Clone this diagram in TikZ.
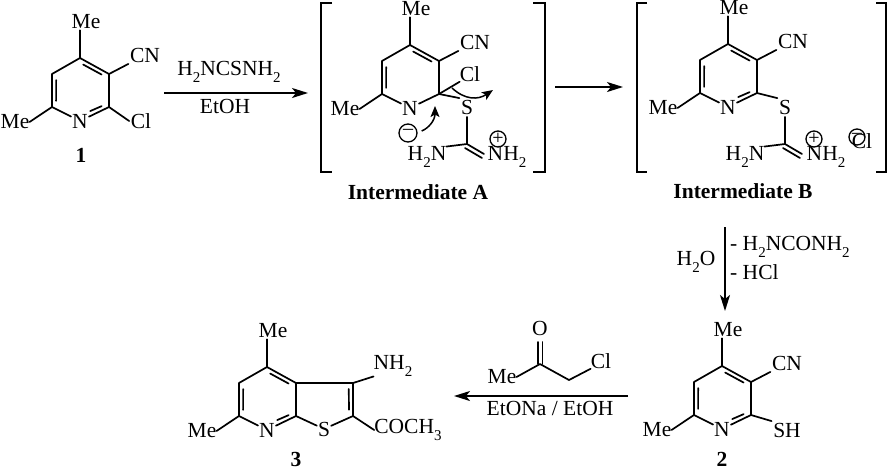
\documentclass[tikz,border=0pt]{standalone}
\usepackage{fontspec}
\setmainfont{Liberation Serif}
\usetikzlibrary{arrows.meta,calc}
\newcommand{\sbs}[1]{\raisebox{-0.3em}{\fontsize{15}{15}\selectfont #1}}
\tikzset{
  bond/.style={line width=1.7pt,line cap=round,line join=round},
  atom/.style={inner sep=1.5pt,font=\fontsize{21.5}{24}\selectfont},
  reag/.style={inner sep=0pt,font=\fontsize{21.5}{24}\selectfont},
  cmpd/.style={inner sep=0pt,font=\fontsize{21.5}{24}\selectfont\bfseries},
  rxn/.style={line width=1.7pt,-{Stealth[length=16pt,width=10pt,inset=4pt]}},
  brk/.style={line width=1.7pt,line cap=butt,line join=miter},
  curly/.style={line width=1.5pt,-{Stealth[length=11pt,width=9pt,inset=2.5pt]}},
  chg/.style={circle,draw,line width=1.3pt,inner sep=0pt,minimum size=16pt,font=\fontsize{20}{20}\selectfont},
}
% inner line of a double bond: towards the ring centre
\newcommand{\dbl}[3]{\draw[bond] ($(#1)!0.13!(#2)!4.5pt!(#3)$) -- ($(#2)!0.13!(#1)!4.5pt!(#3)$);}
% inner line of a double bond ending near a label
\newcommand{\dbln}[3]{\draw[bond] ($(#1)!0.13!(#2)!4.5pt!(#3)$) -- ($(#2)!0.42!(#1)!4.5pt!(#3)$);}
% pyridine ring: prefix, x offset, y offset
\newcommand{\pyr}[3]{%
  \begin{scope}[shift={(#2,#3)}]
    \coordinate (#1c4) at (80,58);
    \coordinate (#1c3) at (109,74);
    \coordinate (#1c2) at (109,107);
    \coordinate (#1c6) at (52,107);
    \coordinate (#1c5) at (52,74);
    \coordinate (#1m) at (80,90);
    \node[atom,inner sep=1pt] (#1n) at (80,121) {N};
    \node[atom,inner sep=1pt] (#1me4) at (86,22) {Me};
    \node[atom,inner sep=0pt] (#1me6) at (15,122) {Me};
    \draw[bond] (#1c6) -- (#1c5) -- (#1c4) -- (#1c3) -- (#1c2) -- (#1n) -- (#1c6);
    \draw[bond] (#1c4) -- (#1c4 |- #1me4.south);
    \draw[bond] (#1c6) -- (#1me6.east);
    \dbl{#1c4}{#1c3}{#1m}
    \dbl{#1c5}{#1c6}{#1m}
  \end{scope}}
\begin{document}
\begin{tikzpicture}[x=1pt,y=-1pt]
\useasboundingbox (0,0) rectangle (887,467);

% ---- compound 1
\pyr{a}{0}{0}
\dbln{ac2}{an}{am}
\node[atom] (acn) at (145,55) {CN};
\node[atom] (acl) at (141,121) {Cl};
\draw[bond] (ac3) -- (acn.south west);
\draw[bond] (ac2) -- (acl.west);
\node[cmpd] (l1) at (81,155) {1};

% ---- arrow 1
\coordinate (r1s) at (164,93);
\coordinate (r1e) at (308,93);
\draw[rxn] (r1s) -- (r1e);
\node[reag] (r1a) at (229,72) {H\sbs{2}NCSNH\sbs{2}};
\node[reag] (r1b) at (225,106) {EtOH};

% ---- Intermediate A
\draw[brk] (332,3) -- (321,3) -- (321,172) -- (332,172);
\draw[brk] (533,3) -- (545,3) -- (545,172) -- (533,172);
\pyr{b}{330}{-13}
\node[atom] (bcn) at (475,42) {CN};
\node[atom,inner sep=0pt] (bcl) at (470,74) {Cl};
\node[atom] (bs) at (467,107) {S};
\node[atom,inner sep=0pt] (bh2n) at (427,157) {H\sbs{2}N};
\node[atom,inner sep=0pt] (bnh2) at (507,157) {NH\sbs{2}};
\coordinate (bcc) at (467,144);
\draw[bond] (bc3) -- (bcn.south west);
\draw[bond] (bc2) -- (bcl.south west);
\draw[bond] (bc2) -- (bs.north west);
\draw[bond] (bs.south) ++(0,1) -- (bcc);
\draw[bond] (bcc) -- (bh2n.north east);
\draw[bond] (bcc) -- (484,154);
\draw[bond] (465,148) -- (482,158);
\node[chg] (bplus) at (498,139) {+};
\node[chg,minimum size=18pt] (bminus) at (408,133) {\raisebox{0.1em}{--}};
\draw[curly] (bminus.east) ++(4,-2) .. controls (429,128) and (435,120) .. (435,106);
\draw[curly] (452,88) .. controls (465,100) and (478,100) .. (493,90);
\node[cmpd] (la) at (418,192) {Intermediate A};

% ---- arrow 2
\coordinate (r2s) at (555,87);
\coordinate (r2e) at (623,87);
\draw[rxn] (r2s) -- (r2e);

% ---- Intermediate B
\draw[brk] (647,3) -- (637,3) -- (637,172) -- (647,172);
\draw[brk] (876,3) -- (886,3) -- (886,172) -- (876,172);
\pyr{c}{648}{-14}
\dbln{cc2}{cn}{cm}
\node[atom] (ccn) at (793,41) {CN};
\node[atom] (cs) at (785,107) {S};
\node[atom,inner sep=0pt] (ch2n) at (745,157) {H\sbs{2}N};
\node[atom,inner sep=0pt] (cnh2) at (826,157) {NH\sbs{2}};
\coordinate (ccc) at (785,144);
\draw[bond] (cc3) -- (ccn.south west);
\draw[bond] (cc2) -- (cs.north west);
\draw[bond] (cs.south) ++(0,1) -- (ccc);
\draw[bond] (ccc) -- (ch2n.north east);
\draw[bond] (ccc) -- (802,154);
\draw[bond] (783,148) -- (800,158);
\node[chg] (cplus) at (814,139) {+};
\node[atom] (ccl) at (862,141) {Cl};
\node[chg] (cminus) at (857,137) {\raisebox{0.1em}{--}};
\node[cmpd] (lb) at (743,191) {Intermediate B};

% ---- arrow 3
\coordinate (r3s) at (725,227);
\coordinate (r3e) at (725,311);
\draw[rxn] (r3s) -- (r3e);
\node[reag] (r3a) at (696,262) {H\sbs{2}O};
\node[reag,anchor=west] (r3b) at (730,247) {- H\sbs{2}NCONH\sbs{2}};
\node[reag,anchor=west] (r3c) at (730,272) {- HCl};

% ---- compound 2
\pyr{d}{642}{308}
\dbln{dc2}{dn}{dm}
\node[atom] (dcn) at (787,363) {CN};
\node[atom] (dsh) at (787,430) {SH};
\draw[bond] (dc3) -- (dcn.south west);
\draw[bond] (dc2) -- (dsh.north west);
\node[cmpd] (l2) at (722,459) {2};

% ---- arrow 4
\coordinate (r4s) at (628,396);
\coordinate (r4e) at (454,396);
\draw[rxn] (r4s) -- (r4e);
\node[atom,inner sep=0pt] (eme) at (502,377) {Me};
\node[atom,inner sep=0pt] (eo) at (540,328) {O};
\node[atom,inner sep=0pt] (ecl) at (601,361) {Cl};
\coordinate (ec) at (540,364);
\coordinate (ech) at (569,380);
\draw[bond] (eme.east) -- (ec) -- (ech) -- (ecl.south west);
\draw[bond] (538,364) -- (538,342);
\draw[bond] (542.5,364) -- (542.5,342);
\node[reag] (r4b) at (550,408) {EtONa / EtOH};

% ---- compound 3
\pyr{f}{187}{309}
\dbln{fc2}{fn}{fm}
\node[atom,inner sep=1pt] (fs) at (324,429) {S};
\node[atom,inner sep=0pt] (fnh2) at (393,366) {NH\sbs{2}};
\node[atom,inner sep=0pt] (fco) at (408,430) {COCH\sbs{3}};
\coordinate (tc2) at (353,416);
\coordinate (tc3) at (353,383);
\coordinate (tm) at (325,398);
\draw[bond] (fc3) -- (tc3) -- (tc2) -- (fs) -- (fc2);
\dbl{tc3}{tc2}{tm}
\draw[bond] (tc3) -- (fnh2.south west);
\draw[bond] (tc2) -- (fco.west);
\node[cmpd] (l3) at (296,459) {3};
\end{tikzpicture}
\end{document}
